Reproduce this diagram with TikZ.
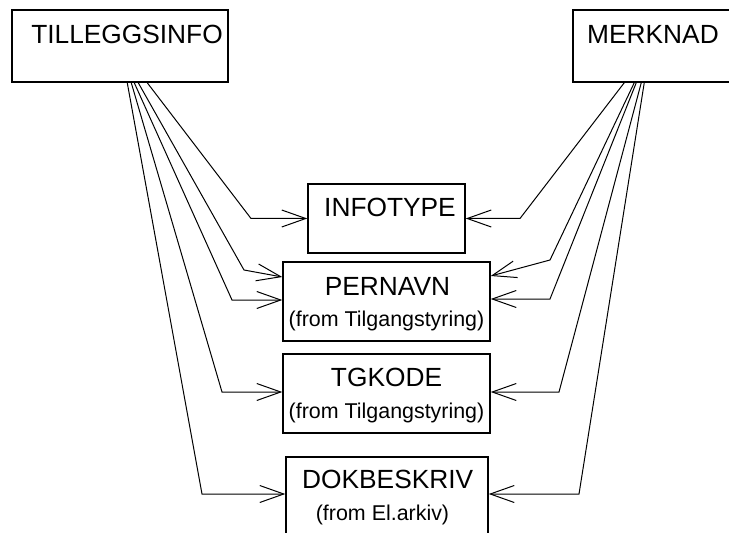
\documentclass[tikz,border=0pt]{standalone}
\usepackage{fontspec}
\setmainfont{Liberation Sans}
\usetikzlibrary{arrows.meta}

\begin{document}
\begin{tikzpicture}[x=1bp,y=-1bp,
		box/.style={draw,line width=1.5bp,inner sep=0pt},
		title/.style={anchor=base,inner sep=0pt,font=\fontsize{26.4}{30}\selectfont},
		sub/.style={anchor=base,inner sep=0pt,font=\fontsize{21.5}{25}\selectfont},
		link/.style={line width=1bp,-{Straight Barb[length=24bp,width=17bp]}}]
		\clip (0,0) rectangle (729,533);
		\node[box,minimum width=216bp,minimum height=72bp] (tilleggsinfo) at (120,46) {};
		\node[title] (tilleggsinfo text) at (127,43.3) {TILLEGGSINFO};
		\node[box,minimum width=172bp,minimum height=72bp] (merknad) at (659,46) {};
		\node[title] (merknad text) at (653,43.3) {MERKNAD};
		\node[box,minimum width=157bp,minimum height=69bp] (infotype) at (386.5,218.5) {};
		\node[title] (infotype text) at (390,216.7) {INFOTYPE};
		\node[box,minimum width=207bp,minimum height=79bp] (pernavn) at (386.5,301.5) {};
		\node[title] (pernavn text) at (387.5,295) {PERNAVN};
		\node[sub] (pernavn from) at (386.5,326) {(from Tilgangstyring)};
		\node[box,minimum width=207bp,minimum height=79bp] (tgkode) at (386.5,393.5) {};
		\node[title] (tgkode text) at (386.5,386) {TGKODE};
		\node[sub] (tgkode from) at (386.5,418) {(from Tilgangstyring)};
		\node[box,minimum width=202bp,minimum height=80bp] (dokbeskriv) at (387,497) {};
		\node[title] (dokbeskriv text) at (387.7,488.3) {DOKBESKRIV};
		\node[sub] (dokbeskriv from) at (382.5,520) {(from El.arkiv)};
		\draw[link] ([xshift=136bp]tilleggsinfo.south west) -- (251,218.5) -- (infotype.west);
		\draw[link] ([xshift=127bp]tilleggsinfo.south west) -- (244,270) -- ([yshift=24.5bp]pernavn.west);
		\draw[link] ([xshift=123bp]tilleggsinfo.south west) -- (232,300) -- ([yshift=1.5bp]pernavn.west);
		\draw[link] ([xshift=120bp]tilleggsinfo.south west) -- (222,392) -- ([yshift=1.5bp]tgkode.west);
		\draw[link] ([xshift=116bp]tilleggsinfo.south west) -- (202,494) -- ([yshift=3bp]dokbeskriv.west);
		\draw[link] ([xshift=52bp]merknad.south west) -- (520,218.5) -- (infotype.east);
		\draw[link] ([xshift=62bp]merknad.south west) -- (550,260) -- ([yshift=25.5bp]pernavn.east);
		\draw[link] ([xshift=64bp]merknad.south west) -- (550,299) -- ([yshift=2.5bp]pernavn.east);
		\draw[link] ([xshift=69bp]merknad.south west) -- (559,392) -- ([yshift=1.5bp]tgkode.east);
		\draw[link] ([xshift=72bp]merknad.south west) -- (579,494) -- ([yshift=3bp]dokbeskriv.east);
	\end{tikzpicture}
\end{document}
